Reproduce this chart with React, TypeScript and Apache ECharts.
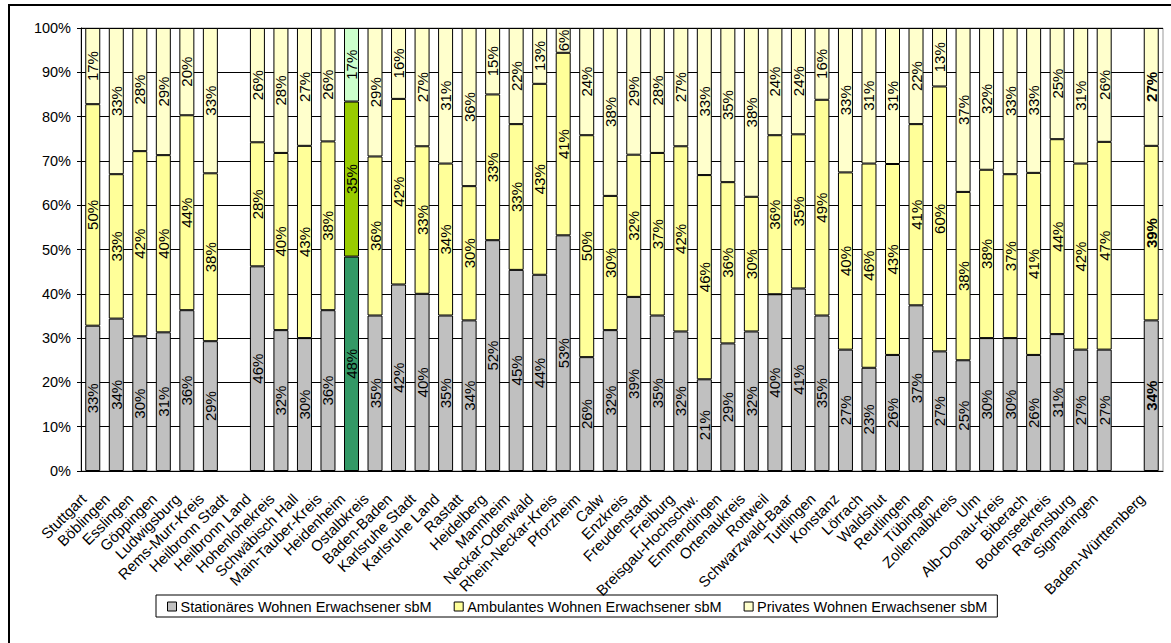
import React, { useEffect, useRef } from "react";
import * as echarts from "echarts";

// Kreise (empty string = spacer slot without label)
const categories = [
  "Stuttgart", "Böblingen", "Esslingen", "Göppingen", "Ludwigsburg", "Rems-Murr-Kreis",
  "Heilbronn Stadt", "Heilbronn Land", "Hohenlohekreis", "Schwäbisch Hall", "Main-Tauber-Kreis",
  "Heidenheim", "Ostalbkreis", "Baden-Baden", "Karlsruhe Stadt", "Karlsruhe Land", "Rastatt",
  "Heidelberg", "Mannheim", "Neckar-Odenwald", "Rhein-Neckar-Kreis", "Pforzheim", "Calw",
  "Enzkreis", "Freudenstadt", "Freiburg", "Breisgau-Hochschw.", "Emmendingen", "Ortenaukreis",
  "Rottweil", "Schwarzwald-Baar", "Tuttlingen", "Konstanz", "Lörrach", "Waldshut", "Reutlingen",
  "Tübingen", "Zollernalbkreis", "Ulm", "Alb-Donau-Kreis", "Biberach", "Bodenseekreis",
  "Ravensburg", "Sigmaringen", "", "Baden-Württemberg",
];

// Anteile in Prozent
const stationaer = [
  32.8, 34.4, 30.4, 31.3, 36.3, 29.3, null, 46.2, 31.8, 30.0, 36.3, 48.4, 35.1, 42.1, 40.0,
  35.1, 34.0, 52.1, 45.4, 44.3, 53.2, 25.7, 31.8, 39.3, 35.1, 31.5, 20.7, 28.8, 31.5, 39.9,
  41.2, 35.1, 27.4, 23.3, 26.2, 37.4, 27.0, 25.0, 30.0, 30.0, 26.2, 30.9, 27.4, 27.4, null, 34.0,
];
const ambulant = [
  50.0, 32.6, 41.8, 40.0, 44.0, 37.9, null, 28.0, 40.0, 43.4, 38.1, 35.0, 35.9, 41.9, 33.3,
  34.3, 30.3, 32.9, 32.9, 43.1, 41.2, 50.1, 30.3, 32.1, 36.7, 41.8, 46.1, 36.4, 30.4, 35.9,
  34.8, 48.7, 40.0, 46.1, 43.1, 40.9, 59.8, 38.0, 38.0, 37.0, 41.1, 44.0, 42.0, 46.9, null, 39.4,
];
const privat = [
  17.2, 33.0, 27.8, 28.7, 19.7, 32.8, null, 25.8, 28.2, 26.6, 25.6, 16.6, 29.0, 16.0, 26.7,
  30.6, 35.7, 15.0, 21.7, 12.6, 5.6, 24.2, 37.9, 28.6, 28.2, 26.7, 33.2, 34.8, 38.1, 24.2,
  24.0, 16.2, 32.6, 30.6, 30.7, 21.7, 13.2, 37.0, 32.0, 33.0, 32.7, 25.1, 30.6, 25.7, null, 26.6,
];

const seriesNames = [
  "Stationäres Wohnen Erwachsener sbM",
  "Ambulantes Wohnen Erwachsener sbM",
  "Privates Wohnen Erwachsener sbM",
];
const baseColors = ["#C0C0C0", "#FFFF99", "#FFFFCC"];
const highlightColors = ["#339966", "#99CC00", "#CCFFCC"];
const highlightName = "Heidenheim";
const totalName = "Baden-Württemberg";

const FONT = "Liberation Sans, Arial, sans-serif";

function buildData(values: (number | null)[], idx: number) {
  return values.map((v, i) => {
    const name = categories[i];
    const item: any = { value: v === null ? "-" : v };
    if (name === highlightName) {
      item.itemStyle = { color: highlightColors[idx] };
    }
    if (name === totalName) {
      item.label = { fontWeight: "bold" };
    }
    return item;
  });
}

export default function App() {
  const ref = useRef<HTMLDivElement>(null);

  useEffect(() => {
    if (!ref.current) return;
    const chart = echarts.init(ref.current, null, { renderer: "svg" });
    const all = [stationaer, ambulant, privat];
    chart.setOption({
      animation: false,
      backgroundColor: "#ffffff",
      textStyle: { fontFamily: FONT },
      grid: {
        left: 81,
        right: 8,
        top: 28,
        bottom: 172,
        show: true,
        borderColor: "#999999",
        borderWidth: 1,
        containLabel: false,
      },
      legend: {
        left: 156,
        top: 595,
        padding: [4, 10, 3, 11],
        borderColor: "#000000",
        borderWidth: 1,
        itemWidth: 9,
        itemHeight: 9,
        itemGap: 22,
        icon: "rect",
        itemStyle: { borderColor: "#000000", borderWidth: 1 },
        textStyle: { fontFamily: FONT, fontSize: 14.5, color: "#000000", padding: [0, 0, 0, -1] },
        data: seriesNames,
      },
      xAxis: {
        type: "category",
        data: categories,
        axisLine: { lineStyle: { color: "#000000", width: 1 } },
        axisTick: { show: false },
        axisLabel: {
          interval: 0,
          rotate: 45,
          margin: 16,
          padding: [0, 13, 0, 0],
          fontFamily: FONT,
          fontSize: 15,
          color: "#000000",
        },
      },
      yAxis: {
        type: "value",
        min: 0,
        max: 100,
        interval: 10,
        axisLine: { show: true, lineStyle: { color: "#000000", width: 1 } },
        axisTick: { show: true, length: 4, lineStyle: { color: "#000000" } },
        axisLabel: {
          formatter: "{value}%",
          fontFamily: FONT,
          fontSize: 14.5,
          color: "#000000",
          margin: 10,
        },
        splitLine: { show: true, lineStyle: { color: "#000000", width: 1 } },
      },
      series: all.map((vals, idx) => ({
        name: seriesNames[idx],
        type: "bar",
        stack: "total",
        barWidth: 15,
        itemStyle: {
          color: baseColors[idx],
          borderColor: "#000000",
          borderWidth: 1,
        },
        label: {
          show: true,
          position: "inside",
          rotate: 90,
          fontFamily: FONT,
          fontSize: 15,
          color: "#000000",
          formatter: (p: any) =>
            typeof p.value === "number" ? Math.round(p.value) + "%" : "",
        },
        data: buildData(vals, idx),
      })),
      graphic: [
        {
          type: "rect",
          silent: true,
          shape: { x: 9, y: 5, width: 1400, height: 900 },
          style: { fill: "none", stroke: "#000000", lineWidth: 2 },
          z: 100,
        },
      ],
    });
    return () => chart.dispose();
  }, []);

  return (
    <div
      ref={ref}
      style={{ position: "fixed", left: 0, top: 0, width: 1171, height: 643 }}
    />
  );
}
